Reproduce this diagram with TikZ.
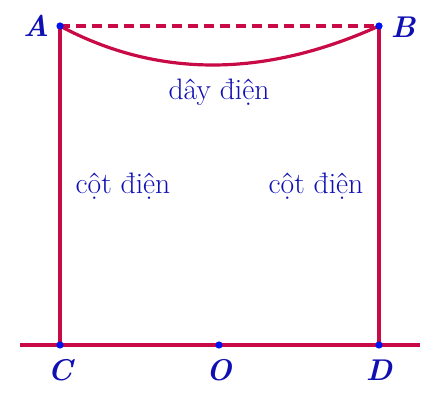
\documentclass[tikz,border=0pt]{standalone}
\usepackage{fontspec}
\setmainfont{Latin Modern Roman}
\definecolor{wire}{RGB}{200,10,70}
\definecolor{lbl}{RGB}{15,15,180}
\definecolor{dotc}{RGB}{0,20,240}
\begin{document}
\begin{tikzpicture}[x=0.5pt,y=-0.5pt,
  wireline/.style={draw=wire,line width=1.6pt},
  dashline/.style={draw=wire,line width=1.6pt,dash pattern=on 5pt off 3pt},
  pt/.style={circle,fill=dotc,inner sep=0pt,minimum size=3.6pt},
  ptlabel/.style={text=lbl,font=\fontsize{15}{17}\selectfont\bfseries\itshape},
  txt/.style={text=lbl,font=\fontsize{14.8}{17}\selectfont}]
\useasboundingbox (0,0) rectangle (444,400);
\coordinate (A) at (60,26);
\coordinate (B) at (379,26);
\coordinate (C) at (60,345);
\coordinate (D) at (379,345);
\coordinate (O) at (219,345);
\coordinate (L) at (20,345);
\coordinate (R) at (420,345);
\draw[wireline] (L) -- (R);
\draw[wireline] (A) -- (C);
\draw[wireline] (B) -- (D);
\draw[dashline] (A) -- (B);
\draw[wireline] (A) .. controls (157,78) and (264,78) .. (B);
\node[pt] (pA) at (A) {};
\node[pt] (pB) at (B) {};
\node[pt] (pC) at (C) {};
\node[pt] (pD) at (D) {};
\node[pt] (pO) at (O) {};
\node[ptlabel] (lA) at (36,26) {A};
\node[ptlabel] (lB) at (403,27) {B};
\node[ptlabel] (lC) at (60,370) {C};
\node[ptlabel] (lO) at (219,370) {O};
\node[ptlabel] (lD) at (379,370) {D};
\node[txt] (day) at (219,92) {dây điện};
\node[txt] (cot1) at (123,186) {cột điện};
\node[txt] (cot2) at (316,186) {cột điện};
\end{tikzpicture}
\end{document}
